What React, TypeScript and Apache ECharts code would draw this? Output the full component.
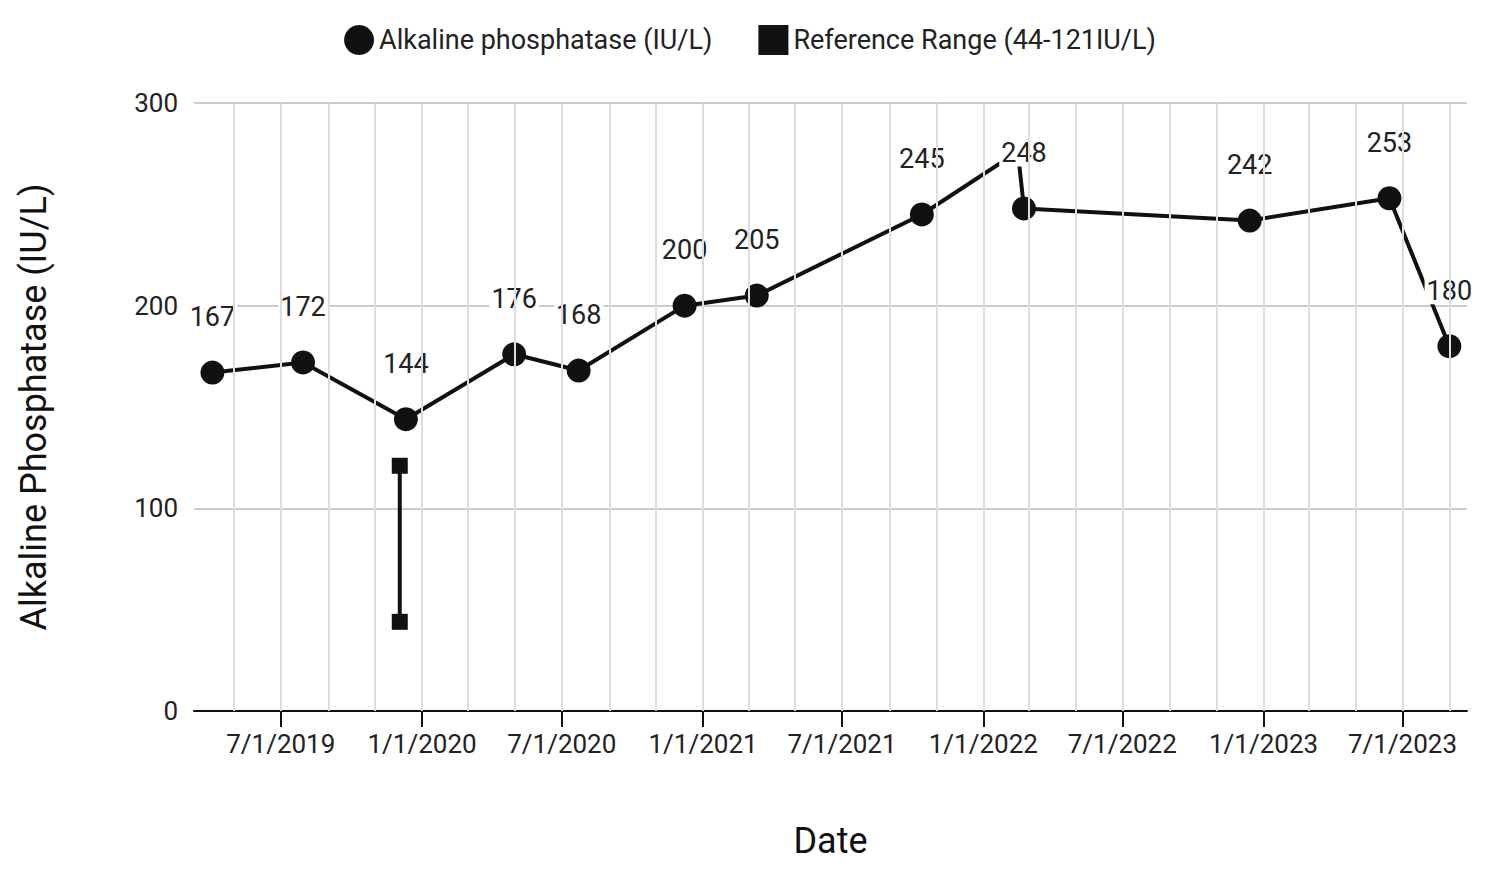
import React, { useEffect, useRef } from 'react';
import * as echarts from 'echarts';

const alpDates = ['2019-04-03', '2019-07-30', '2019-12-11', '2020-04-30', '2020-07-23', '2020-12-08', '2021-03-12', '2021-10-13', '2022-02-15', '2022-02-23', '2022-12-14', '2023-06-14', '2023-08-31'];
const alpValues = [167, 172, 144, 176, 168, 200, 205, 245, 276, 248, 242, 253, 180];
const hiddenIndex = 8;
const refDate = '2019-12-03';
const refValues = [44, 121];
const tickDates = ['2019-07-01', '2020-01-01', '2020-07-01', '2021-01-01', '2021-07-01', '2022-01-01', '2022-07-01', '2023-01-01', '2023-07-01'];
const gridDates = ['2019-05-01', '2019-07-01', '2019-09-01', '2019-11-01', '2020-01-01', '2020-03-01', '2020-05-01', '2020-07-01', '2020-09-01', '2020-11-01', '2021-01-01', '2021-03-01', '2021-05-01', '2021-07-01', '2021-09-01', '2021-11-01', '2022-01-01', '2022-03-01', '2022-05-01', '2022-07-01', '2022-09-01', '2022-11-01', '2023-01-01', '2023-03-01', '2023-05-01', '2023-07-01', '2023-09-01'];

const ts = (d: string) => new Date(d + 'T00:00:00Z').getTime();
const fmt = (v: number) => { const d = new Date(v); return `${d.getUTCMonth() + 1}/${d.getUTCDate()}/${d.getUTCFullYear()}`; };

export default function App() {
  const ref = useRef<HTMLDivElement | null>(null);
  useEffect(() => {
    if (!ref.current) return;
    const chart = echarts.init(ref.current, undefined, { renderer: 'svg' });
    const font = 'Roboto, Arial, sans-serif';
    chart.setOption({
      animation: false,
      backgroundColor: '#fff',
      textStyle: { fontFamily: font },
      legend: {
        top: 12, left: 'center', itemGap: 46, itemWidth: 30, itemHeight: 30,
        textStyle: { fontSize: 27, color: '#222' },
        data: [
          { name: 'Alkaline phosphatase (IU/L)', icon: 'circle' },
          { name: 'Reference Range (44-121IU/L)', icon: 'rect' }
        ]
      },
      grid: { left: 181, right: 25, top: 95, bottom: 167 },
      xAxis: {
        type: 'value', min: ts('2019-03-10'), max: ts('2023-09-23'),
        name: 'Date', nameLocation: 'middle', nameGap: 112,
        nameTextStyle: { fontSize: 36, color: '#111' },
        axisLine: { lineStyle: { color: '#111', width: 2 } },
        axisTick: { show: true, customValues: tickDates.map(ts), length: 16, lineStyle: { color: '#111', width: 2 } },
        axisLabel: { customValues: tickDates.map(ts), formatter: (v: number) => fmt(v), fontSize: 26, color: '#222', margin: 20 },
        splitLine: { show: false }
      },
      yAxis: {
        type: 'value', min: 0, max: 300, interval: 100,
        name: 'Alkaline Phosphatase (IU/L)', nameLocation: 'middle', nameGap: 142,
        nameTextStyle: { fontSize: 36, color: '#111' },
        axisLine: { show: false }, axisTick: { show: false },
        axisLabel: { fontSize: 26, color: '#222', margin: 16 },
        splitLine: { lineStyle: { color: '#ccc', width: 2 } }
      },
      series: [
        {
          name: 'grid', type: 'line', data: [[ts('2020-01-01'), -10]], symbol: 'none', silent: true,
          markLine: {
            silent: true, symbol: 'none', label: { show: false },
            lineStyle: { color: '#ddd', type: 'solid', width: 2 },
            data: gridDates.map((d) => ({ xAxis: ts(d) }))
          }
        },
        {
          name: 'Alkaline phosphatase (IU/L)', type: 'line', z: 3,
          symbol: 'circle', symbolSize: 24,
          lineStyle: { color: '#111', width: 4 }, itemStyle: { color: '#111' },
          label: { show: true, position: 'top', distance: 30, fontSize: 27, color: '#222', backgroundColor: '#fff', padding: [0, 2] },
          data: alpDates.map((d, i) => i === hiddenIndex
            ? { value: [ts(d), alpValues[i]], symbol: 'none', label: { show: false } }
            : { value: [ts(d), alpValues[i]] })
        },
        {
          name: 'Reference Range (44-121IU/L)', type: 'line', z: 2,
          symbol: 'rect', symbolSize: 16,
          lineStyle: { color: '#111', width: 4 }, itemStyle: { color: '#111' },
          data: refValues.map((v) => [ts(refDate), v])
        }
      ]
    });
    return () => chart.dispose();
  }, []);
  return <div ref={ref} style={{ width: 1484, height: 870 }} />;
}
